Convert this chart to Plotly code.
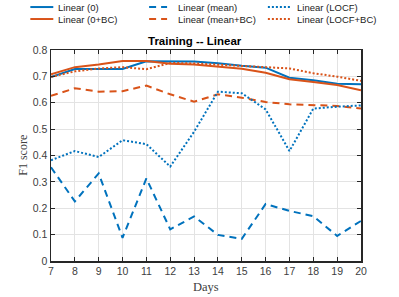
import plotly.graph_objects as go

days = list(range(7, 21))

linear_0 = [0.697, 0.728, 0.728, 0.728, 0.757, 0.756, 0.756, 0.750, 0.740, 0.733, 0.695, 0.685, 0.672, 0.670]
linear_0_bc = [0.708, 0.735, 0.745, 0.758, 0.758, 0.748, 0.745, 0.737, 0.729, 0.714, 0.689, 0.679, 0.667, 0.647]
linear_mean = [0.355, 0.226, 0.332, 0.088, 0.313, 0.120, 0.169, 0.099, 0.084, 0.216, 0.190, 0.170, 0.095, 0.152]
linear_mean_bc = [0.626, 0.655, 0.642, 0.644, 0.665, 0.632, 0.604, 0.632, 0.619, 0.603, 0.594, 0.592, 0.588, 0.578]
linear_locf = [0.382, 0.417, 0.394, 0.458, 0.443, 0.358, 0.490, 0.642, 0.636, 0.575, 0.417, 0.578, 0.585, 0.590]
linear_locf_bc = [0.698, 0.719, 0.730, 0.735, 0.727, 0.751, 0.749, 0.745, 0.740, 0.735, 0.730, 0.712, 0.699, 0.683]

names = ["Linear (0)", "Linear (0+BC)", "Linear (mean)",
         "Linear (mean+BC)", "Linear (LOCF)", "Linear (LOCF+BC)"]

BLUE = "#0072BD"
ORANGE = "#D95319"
DASH = "7px,5px"
DOT = "2px,2px"

series = [
    (linear_0, names[0], BLUE, "solid"),
    (linear_0_bc, names[1], ORANGE, "solid"),
    (linear_mean, names[2], BLUE, DASH),
    (linear_mean_bc, names[3], ORANGE, DASH),
    (linear_locf, names[4], BLUE, DOT),
    (linear_locf_bc, names[5], ORANGE, DOT),
]

W, H = 399, 297
L, R, T, B = 50.7, 361.3, 49.5, 260.7


def px_x(px):
    return (px - L) / (R - L)


def px_y(py):
    return (B - py) / (B - T)


fig = go.Figure()
for vals, name, color, dash in series:
    fig.add_trace(go.Scatter(x=days, y=vals, name=name, mode="lines", showlegend=False,
                             line=dict(color=color, width=2, dash=dash)))

# manual legend (3 columns x 2 rows), column-major order like the reference
leg_cols = [(30, 53, 56), (149, 167, 176), (268, 292, 295)]
leg_rows = [6.5, 18.5]
shapes = []
annotations = []
for i, (vals, name, color, dash) in enumerate(series):
    c, r = divmod(i, 2)
    x0, x1, xt = leg_cols[c]
    yy = px_y(leg_rows[r])
    shapes.append(dict(type="line", xref="paper", yref="paper", x0=px_x(x0), x1=px_x(x1),
                       y0=yy, y1=yy, line=dict(color=color, width=2, dash=dash)))
    annotations.append(dict(text=name, xref="paper", yref="paper", x=px_x(xt), y=yy,
                            showarrow=False, xanchor="left", yanchor="middle",
                            font=dict(family="Liberation Sans", size=9.5, color="#222222")))

axis_common = dict(showline=True, mirror="ticks", linecolor="#262626", linewidth=1.5,
                   ticks="inside", ticklen=4, tickcolor="#262626",
                   showgrid=True, gridcolor="#e3e3e3", gridwidth=1, zeroline=False,
                   tickfont=dict(family="Liberation Sans", size=10.5, color="#404040"))

fig.update_xaxes(range=[7, 20], tickmode="linear", tick0=7, dtick=1, **axis_common)
fig.update_yaxes(range=[0, 0.8], tickmode="linear", tick0=0, dtick=0.1,
                 tickformat=".1~f", **axis_common)

annotations += [
    dict(text="<b>Training -- Linear</b>", xref="paper", yref="paper", x=px_x(195), y=px_y(40.5),
         showarrow=False, xanchor="center", yanchor="middle",
         font=dict(family="Liberation Sans", size=11.5, color="black")),
    dict(text="Days", xref="paper", yref="paper", x=0.5, y=px_y(286.5),
         showarrow=False, xanchor="center", yanchor="middle",
         font=dict(family="Liberation Serif", size=12.5, color="#404040")),
    dict(text="F1 score", xref="paper", yref="paper", x=px_x(23), y=px_y(155),
         showarrow=False, xanchor="center", yanchor="middle", textangle=-90,
         font=dict(family="Liberation Serif", size=12, color="#404040")),
]

fig.update_layout(
    width=W, height=H,
    margin=dict(l=L, r=W - R, t=T, b=H - B, autoexpand=False),
    plot_bgcolor="white", paper_bgcolor="white",
    showlegend=False,
    shapes=shapes,
    annotations=annotations,
)

fig.write_html("out.html", config={"displayModeBar": False, "staticPlot": True},
               post_script="document.body.style.margin='0px';")
